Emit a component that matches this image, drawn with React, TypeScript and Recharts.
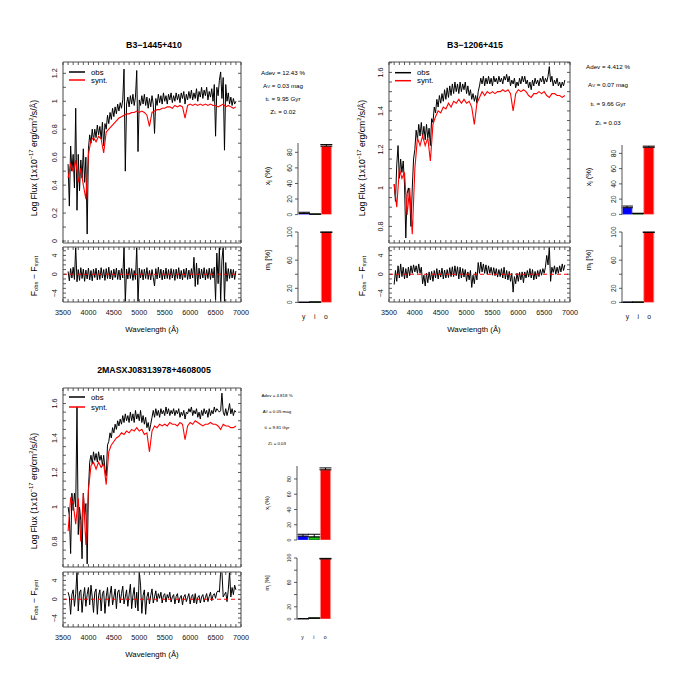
import React from "react";
import { LineChart, Line, XAxis, YAxis, ReferenceLine, BarChart, Bar, Cell, ErrorBar } from "recharts";

const FONT = "'Liberation Sans', Arial, Helvetica, sans-serif";
const FRAME = "#8c8c8c";
const TICK = "#333";

// observed spectra and residuals are read every 25 Å, the model every 50 Å
const WAVE_FINE = [
  3600, 3625, 3650, 3675, 3700, 3725, 3750, 3775, 3800, 3825, 3850, 3875, 3900, 3925, 3950, 3975, 4000, 4025, 4050, 4075,
  4100, 4125, 4150, 4175, 4200, 4225, 4250, 4275, 4300, 4325, 4350, 4375, 4400, 4425, 4450, 4475, 4500, 4525, 4550, 4575,
  4600, 4625, 4650, 4675, 4700, 4725, 4750, 4775, 4800, 4825, 4850, 4875, 4900, 4925, 4950, 4975, 5000, 5025, 5050, 5075,
  5100, 5125, 5150, 5175, 5200, 5225, 5250, 5275, 5300, 5325, 5350, 5375, 5400, 5425, 5450, 5475, 5500, 5525, 5550, 5575,
  5600, 5625, 5650, 5675, 5700, 5725, 5750, 5775, 5800, 5825, 5850, 5875, 5900, 5925, 5950, 5975, 6000, 6025, 6050, 6075,
  6100, 6125, 6150, 6175, 6200, 6225, 6250, 6275, 6300, 6325, 6350, 6375, 6400, 6425, 6450, 6475, 6500, 6525, 6550, 6575,
  6600, 6625, 6650, 6675, 6700, 6725, 6750, 6775, 6800, 6825, 6850, 6875, 6900,
];
const WAVE = [
  3600, 3650, 3700, 3750, 3800, 3850, 3900, 3950, 4000, 4050,
  4100, 4150, 4200, 4250, 4300, 4350, 4400, 4450, 4500, 4550,
  4600, 4650, 4700, 4750, 4800, 4850, 4900, 4950, 5000, 5050,
  5100, 5150, 5200, 5250, 5300, 5350, 5400, 5450, 5500, 5550,
  5600, 5650, 5700, 5750, 5800, 5850, 5900, 5950, 6000, 6050,
  6100, 6150, 6200, 6250, 6300, 6350, 6400, 6450, 6500, 6550,
  6600, 6650, 6700, 6750, 6800, 6850, 6900,
];

// B3-1445+410
const OBS_A = [
  0.55, 0.25, 0.68, 0.50, 0.62, 0.38, 0.95, 0.22, 0.62, 0.36, 0.58, 0.45, 0.66, 0.42, 0.60, 0.05, 0.66, 0.76, 0.70, 0.80,
  0.72, 0.80, 0.74, 0.83, 0.76, 0.82, 0.73, 0.85, 0.68, 0.84, 0.80, 0.90, 0.84, 0.92, 0.87, 0.95, 0.89, 0.96, 0.91, 0.98,
  0.93, 0.99, 0.95, 1.01, 1.23, 0.50, 0.98, 1.03, 0.96, 1.04, 0.98, 1.05, 0.97, 1.03, 1.22, 0.64, 1.01, 0.97, 1.04, 0.98,
  1.05, 0.97, 1.03, 0.95, 1.02, 0.96, 1.04, 0.98, 0.77, 1.02, 0.97, 1.05, 0.99, 1.04, 0.98, 1.06, 1.00, 1.04, 0.98, 1.05,
  1.01, 1.06, 0.99, 1.04, 1.00, 1.06, 1.01, 1.05, 0.99, 1.06, 1.02, 1.07, 0.98, 1.05, 1.01, 1.07, 1.02, 1.08, 1.01, 1.06,
  1.02, 1.09, 1.00, 1.07, 1.03, 1.10, 1.02, 1.08, 1.04, 1.10, 1.01, 1.07, 1.03, 1.09, 1.00, 1.12, 0.75, 1.10, 1.04, 1.15,
  1.21, 1.02, 1.17, 0.65, 1.12, 1.00, 1.06, 0.98, 1.03, 0.97, 1.02, 0.98, 1.00,
];
const SYN_A = [
  0.45, 0.55, 0.50, 0.58, 0.42, 0.52, 0.40, 0.30, 0.62, 0.72,
  0.74, 0.71, 0.75, 0.73, 0.63, 0.78, 0.80, 0.82, 0.84, 0.86,
  0.88, 0.89, 0.90, 0.91, 0.91, 0.92, 0.92, 0.93, 0.92, 0.93,
  0.92, 0.90, 0.82, 0.92, 0.93, 0.94, 0.94, 0.95, 0.95, 0.96,
  0.96, 0.95, 0.97, 0.96, 0.97, 0.96, 0.88, 0.97, 0.98, 0.97,
  0.98, 0.97, 0.98, 0.97, 0.98, 0.97, 0.98, 0.97, 0.97, 0.96,
  0.97, 0.98, 0.96, 0.97, 0.96, 0.95, 0.96,
];
const RES_A = [
  0.6, -1.4, 1.2, -0.8, 1.5, -1.1, 5.9, -1.6, 1.0, -1.3, 1.4, -0.9, 1.1, -1.5, 0.9, -1.0, 1.3, -1.2, 0.8, -1.4,
  1.1, -0.7, 1.3, -1.2, 0.9, -1.1, 1.4, -0.8, 1.0, -1.3, 1.2, -0.9, 1.5, -1.0, 0.8, -1.2, 1.1, -0.7, 1.3, -1.1,
  0.9, -1.2, 1.2, -0.8, 5.9, -5.9, 1.1, -1.0, 1.4, -0.9, 1.2, -1.3, 0.8, -1.1, 5.9, -5.9, 1.3, -0.8, 1.0, -1.2,
  1.1, -0.9, 1.4, -1.1, 0.8, -1.2, 1.0, -0.7, -2.5, 1.2, -1.0, 1.5, -0.8, 1.1, -1.2, 0.9, -1.0, 1.3, -0.9, 1.0,
  -1.1, 1.2, -0.8, 1.0, -1.3, 1.1, -0.9, 1.4, -1.0, 0.8, -1.2, 1.1, -0.7, 1.3, -1.1, 0.9, -1.0, 1.2, -0.8, 3.6,
  -2.6, 2.4, -2.2, 1.3, -1.0, 1.1, -0.8, 1.4, -1.2, 1.0, -0.9, 1.3, -1.1, 1.2, -0.8, 1.5, -5.5, 4.5, -2.0, 5.9,
  -5.9, 3.0, 5.9, -5.9, 2.5, -1.5, 1.2, -0.9, 1.1, -0.8, 1.0, -1.1, 0.7,
];

// B3-1206+415
const OBS_B = [
  1.02, 0.93, 1.12, 1.22, 1.05, 1.15, 1.08, 1.14, 1.02, 0.74, 0.97, 1.00, 0.95, 0.80, 1.00, 1.15, 1.20, 1.30, 1.25, 1.33,
  1.27, 1.34, 1.26, 1.32, 1.25, 1.33, 1.26, 1.31, 1.22, 1.36, 1.34, 1.42, 1.39, 1.46, 1.42, 1.48, 1.44, 1.49, 1.45, 1.51,
  1.46, 1.52, 1.47, 1.53, 1.48, 1.54, 1.49, 1.55, 1.50, 1.54, 1.49, 1.55, 1.50, 1.54, 1.51, 1.55, 1.49, 1.53, 1.48, 1.51,
  1.46, 1.49, 1.45, 1.48, 1.44, 1.50, 1.53, 1.57, 1.54, 1.58, 1.53, 1.57, 1.54, 1.58, 1.54, 1.57, 1.53, 1.58, 1.55, 1.57,
  1.54, 1.58, 1.55, 1.57, 1.54, 1.58, 1.56, 1.59, 1.55, 1.58, 1.53, 1.56, 1.54, 1.57, 1.52, 1.55, 1.53, 1.57, 1.54, 1.58,
  1.55, 1.58, 1.54, 1.56, 1.52, 1.55, 1.51, 1.56, 1.53, 1.57, 1.54, 1.56, 1.53, 1.57, 1.55, 1.58, 1.54, 1.57, 1.55, 1.58,
  1.63, 1.55, 1.58, 1.53, 1.56, 1.54, 1.57, 1.53, 1.55, 1.52, 1.55, 1.53, 1.56,
];
const SYN_B = [
  1.02, 0.90, 1.10, 1.05, 1.08, 0.86, 1.00, 0.76, 1.10, 1.26,
  1.22, 1.27, 1.22, 1.26, 1.14, 1.33, 1.37, 1.40, 1.39, 1.42,
  1.41, 1.44, 1.42, 1.45, 1.44, 1.46, 1.44, 1.46, 1.44, 1.45,
  1.42, 1.33, 1.44, 1.47, 1.50, 1.48, 1.50, 1.49, 1.50, 1.49,
  1.50, 1.50, 1.51, 1.50, 1.51, 1.49, 1.40, 1.49, 1.51, 1.50,
  1.51, 1.50, 1.48, 1.47, 1.49, 1.49, 1.50, 1.49, 1.50, 1.48,
  1.47, 1.49, 1.49, 1.48, 1.48, 1.47, 1.48,
];
const RES_B = [
  -2.2, 0.8, -1.5, 1.8, -0.8, 2.2, -0.5, 1.5, -1.0, 1.2, -0.8, 1.5, -0.3, 1.8, 0.2, 2.0, 0.5, 1.8, 0.2, 2.2,
  0.2, 1.5, -2.0, -0.2, -2.5, 0.2, -1.8, 0.5, -1.2, 0.6, -1.5, 0.8, -0.8, 1.2, -1.0, 0.9, -0.6, 1.3, -1.0, 0.9,
  -0.8, 1.0, -0.7, 1.4, -0.5, 1.6, -0.5, 1.8, -0.3, 1.6, -1.0, 1.5, -0.8, 1.2, -0.6, 1.0, -1.5, 0.5, -1.2, 0.8,
  -2.8, -0.2, -2.0, 0.5, -1.2, 2.5, 0.2, 2.6, 0.5, 2.2, 0.2, 2.0, 0.0, 1.8, 0.2, 1.5, -0.2, 1.4, -0.3, 1.2,
  -0.6, 1.0, -0.5, 1.2, -0.8, 1.5, -1.0, 0.8, -1.2, 0.6, -1.5, 0.2, -3.8, -0.5, -2.0, 0.2, -1.5, 0.4, -1.2, 0.5,
  -1.8, 0.5, -0.8, 0.8, -0.6, 1.2, -0.8, 1.0, -1.2, 0.6, -1.0, 0.8, -0.5, 1.0, -0.2, 1.2, 0.2, 1.5, 4.0, 2.0,
  5.9, -1.5, 1.5, 0.4, 1.8, 0.0, 1.5, 0.2, 1.8, 0.5, 2.2, 0.8, 2.0,
];

// 2MASXJ08313978+4608005
const OBS_C = [
  1.00, 0.95, 0.73, 1.08, 0.98, 1.08, 1.00, 1.58, 0.84, 1.00, 0.92, 0.70, 1.08, 0.95, 1.02, 0.67, 1.10, 1.26, 1.30, 1.25,
  1.32, 1.27, 1.31, 1.26, 1.32, 1.27, 1.30, 1.24, 1.30, 1.22, 1.18, 1.36, 1.38, 1.43, 1.40, 1.46, 1.43, 1.48, 1.45, 1.50,
  1.47, 1.51, 1.48, 1.53, 1.49, 1.54, 1.50, 1.53, 1.49, 1.55, 1.50, 1.54, 1.49, 1.56, 1.51, 1.54, 1.50, 1.56, 1.49, 1.53,
  1.48, 1.52, 1.46, 1.49, 1.44, 1.48, 1.52, 1.56, 1.52, 1.57, 1.53, 1.56, 1.52, 1.57, 1.54, 1.56, 1.53, 1.58, 1.54, 1.57,
  1.53, 1.56, 1.54, 1.57, 1.53, 1.56, 1.54, 1.57, 1.52, 1.55, 1.53, 1.56, 1.51, 1.55, 1.54, 1.57, 1.55, 1.58, 1.53, 1.56,
  1.54, 1.57, 1.52, 1.55, 1.51, 1.56, 1.53, 1.57, 1.54, 1.56, 1.52, 1.57, 1.53, 1.56, 1.54, 1.58, 1.55, 1.57, 1.56, 1.55,
  1.56, 1.66, 1.55, 1.53, 1.57, 1.53, 1.56, 1.60, 1.54, 1.57, 1.53, 1.56, 1.55,
];
const SYN_C = [
  0.86, 1.05, 1.02, 0.90, 1.05, 0.80, 1.08, 0.78, 1.10, 1.24,
  1.26, 1.22, 1.26, 1.23, 1.25, 1.13, 1.32, 1.36, 1.38, 1.40,
  1.41, 1.43, 1.42, 1.44, 1.43, 1.45, 1.44, 1.46, 1.44, 1.45,
  1.42, 1.43, 1.32, 1.44, 1.47, 1.46, 1.48, 1.47, 1.48, 1.47,
  1.49, 1.48, 1.48, 1.47, 1.49, 1.48, 1.39, 1.47, 1.49, 1.48,
  1.50, 1.49, 1.48, 1.47, 1.48, 1.48, 1.49, 1.48, 1.48, 1.47,
  1.45, 1.48, 1.47, 1.47, 1.46, 1.46, 1.47,
];
const RES_C = [
  1.5, 0.5, -3.2, 1.0, 2.0, -1.5, 1.2, 5.9, -2.5, 1.5, 2.0, -2.8, 0.5, 2.5, -1.5, 1.0, 2.5, -1.2, 3.0, 0.5,
  -2.8, 1.5, 2.2, -3.2, 0.8, 2.0, -2.5, 1.2, 1.8, -3.0, 0.5, 2.5, -1.5, 1.0, 2.8, -1.2, 0.5, 2.2, -2.0, 1.5,
  2.0, -0.8, 1.2, 2.8, -1.0, 0.5, 2.0, -1.5, 1.0, 3.2, -2.0, 0.8, 2.5, -1.8, 1.5, -2.5, 5.9, 3.0, -3.0, 0.8,
  2.0, -3.2, 0.5, 1.5, -1.0, 0.8, 2.2, -0.8, 0.5, 1.8, -0.5, 1.2, 0.2, 1.5, -0.8, 0.8, 1.2, -0.6, 1.0, 0.2,
  1.5, -0.6, 0.5, 1.0, -1.0, 0.6, 1.2, -0.8, 0.3, 0.8, -1.2, 0.5, 1.0, -0.5, 0.4, 1.2, -1.0, 0.6, 1.0, -0.8,
  1.2, -1.0, 0.4, 0.8, -0.8, 0.5, 1.0, -0.6, 0.4, 1.2, -0.5, 0.6, 1.5, -0.3, 0.8, 1.2, 0.2, 1.5, 1.8, 1.5,
  5.9, 5.9, 0.5, 1.0, 1.5, -0.5, 2.0, 5.9, 0.5, 2.5, 1.0, 3.0, 2.0,
];

// population vectors: young / intermediate / old
const CATS = ["y", "i", "o"];
const XJ_A = [1.5, 0.5, 88];
const XJ_ERR_A = [1.5, 0.3, 2];
const MJ_A = [0.1, 0.4, 99.5];
const MJ_ERR_A = [0.1, 0.2, 0.5];
const XJ_B = [8.7, 1, 88];
const XJ_ERR_B = [2.2, 0.5, 1.5];
const MJ_B = [0.2, 0.3, 99.5];
const MJ_ERR_B = [0.1, 0.1, 0.4];
const XJ_C = [5, 4, 92];
const XJ_ERR_C = [2.5, 3.5, 2.5];
const MJ_C = [0.3, 1.3, 98.4];
const MJ_ERR_C = [0.2, 0.5, 1];

// ticks
const X_TICKS = [3500, 3600, 3700, 3800, 3900, 4000, 4100, 4200, 4300, 4400, 4500, 4600, 4700, 4800, 4900, 5000, 5100, 5200, 5300, 5400, 5500, 5600, 5700, 5800, 5900, 6000, 6100, 6200, 6300, 6400, 6500, 6600, 6700, 6800, 6900, 7000];
const X_LABELS = [3500, 4000, 4500, 5000, 5500, 6000, 6500, 7000];
const FLUX_TICKS_A = [0, 0.1, 0.2, 0.3, 0.4, 0.5, 0.6, 0.7, 0.8, 0.9, 1, 1.1, 1.2];
const FLUX_LABELS_A = [0, 0.2, 0.4, 0.6, 0.8, 1, 1.2];
const FLUX_TICKS_B = [0.75, 0.8, 0.85, 0.9, 0.95, 1, 1.05, 1.1, 1.15, 1.2, 1.25, 1.3, 1.35, 1.4, 1.45, 1.5, 1.55, 1.6, 1.65];
const FLUX_TICKS_C = [0.7, 0.75, 0.8, 0.85, 0.9, 0.95, 1, 1.05, 1.1, 1.15, 1.2, 1.25, 1.3, 1.35, 1.4, 1.45, 1.5, 1.55, 1.6, 1.65];
const FLUX_LABELS_BC = [0.8, 1, 1.2, 1.4, 1.6];
const RES_TICKS = [-5, -4, -3, -2, -1, 0, 1, 2, 3, 4, 5];
const RES_LABELS = [-4, 0, 4];
const XJ_TICKS = [0, 20, 40, 60, 80];
const MJ_TICKS = [0, 20, 40, 60, 80, 100];
const MJ_LABELS = [0, 20, 60, 100];

const BAR_FILL = ["#0000ff", "#1fc41f", "#ff0000"];
const BAR_EDGE = ["#4b4bff", "#0b5e0b", "#ff8a8a"];

const obsRows = (obs: number[]) => WAVE_FINE.map((w, i) => ({ w, obs: obs[i] }));
const synRows = (syn: number[]) => WAVE.map((w, i) => ({ w, syn: syn[i] }));
const resRows = (res: number[]) => WAVE_FINE.map((w, i) => ({ w, res: res[i] }));
const barRows = (v: number[], e: number[]) => CATS.map((c, i) => ({ c, v: v[i], e: [0, e[i]] }));

const fmt = (v: number) => (v < 0 ? "\u2212" + Math.abs(v) : String(v));

const bottomTick = (labels: number[], fs: number) => (p: any) => {
  const v = p.payload.value;
  return (
    <g>
      <line x1={p.x} x2={p.x} y1={p.y} y2={p.y - 3} stroke={TICK} strokeWidth={0.8} />
      {labels.includes(v) && (
        <text x={p.x} y={p.y + 12.5} textAnchor="middle" fontSize={fs} fontFamily={FONT} fill="#111">{v}</text>
      )}
    </g>
  );
};
const topTick = (p: any) => <line x1={p.x} x2={p.x} y1={p.y} y2={p.y + 3} stroke={TICK} strokeWidth={0.8} />;
const rightTick = (p: any) => <line x1={p.x} x2={p.x - 3} y1={p.y} y2={p.y} stroke={TICK} strokeWidth={0.8} />;
const leftTick = (labels: number[], fs: number, inward: boolean) => (p: any) => {
  const v = p.payload.value;
  const tx = p.x - 6;
  return (
    <g>
      <line x1={p.x} x2={inward ? p.x + 3 : p.x - 3} y1={p.y} y2={p.y} stroke={TICK} strokeWidth={0.8} />
      {labels.includes(v) && (
        <text x={tx} y={p.y} transform={`rotate(-90 ${tx} ${p.y})`} textAnchor="middle" fontSize={fs} fontFamily={FONT} fill="#111">{fmt(v)}</text>
      )}
    </g>
  );
};
const catTick = (fs: number, dy: number) => (p: any) => (
  <text x={p.x} y={p.y + dy} textAnchor="middle" fontSize={fs} fontFamily={FONT} fill="#111">{p.payload.value}</text>
);

const PAD = 30;

// axes get a 1px box (a 0 size axis is not drawn), margins shrink by 1 to keep the plot box exact
function Framed({ box, yDomain, yTicks, yLabels, xLabels, children }: any) {
  const m = PAD - 1;
  return (
    <div style={{ position: "absolute", left: box.x - PAD, top: box.y - PAD }}>
      <LineChart width={box.w + 2 * PAD} height={box.h + 2 * PAD} margin={{ top: m, right: m, bottom: m, left: m }}>
        <XAxis xAxisId="b" dataKey="w" type="number" domain={[3500, 7000]} ticks={X_TICKS} interval={0} height={1} tickSize={0} tickMargin={0} tickLine={false} axisLine={{ stroke: FRAME, strokeWidth: 1.6 }} tick={bottomTick(xLabels, 7.2)} allowDataOverflow />
        <XAxis xAxisId="t" orientation="top" dataKey="w" type="number" domain={[3500, 7000]} ticks={X_TICKS} interval={0} height={1} tickSize={0} tickMargin={0} tickLine={false} axisLine={{ stroke: FRAME, strokeWidth: 1.6 }} tick={topTick} allowDataOverflow />
        <YAxis yAxisId="l" type="number" domain={yDomain} ticks={yTicks} interval={0} width={1} tickSize={0} tickMargin={0} tickLine={false} axisLine={{ stroke: FRAME, strokeWidth: 1.6 }} tick={leftTick(yLabels, 7.2, true)} allowDataOverflow />
        <YAxis yAxisId="r" orientation="right" type="number" domain={yDomain} ticks={yTicks} interval={0} width={1} tickSize={0} tickMargin={0} tickLine={false} axisLine={{ stroke: FRAME, strokeWidth: 1.6 }} tick={rightTick} allowDataOverflow />
        {children}
      </LineChart>
    </div>
  );
}

function SpecPanel({ main, res, obs, syn, resid, yDomain, yTicks, yLabels }: any) {
  return (
    <>
      <Framed box={main} yDomain={yDomain} yTicks={yTicks} yLabels={yLabels} xLabels={[]}>
        <Line xAxisId="b" yAxisId="l" data={obsRows(obs)} type="linear" dataKey="obs" stroke="#000" strokeWidth={1} dot={false} isAnimationActive={false} />
        <Line xAxisId="b" yAxisId="l" data={synRows(syn)} type="linear" dataKey="syn" stroke="#ff0000" strokeWidth={1.1} dot={false} isAnimationActive={false} />
      </Framed>
      <Framed box={res} yDomain={[-5.9, 5.8]} yTicks={RES_TICKS} yLabels={RES_LABELS} xLabels={X_LABELS}>
        <Line xAxisId="b" yAxisId="l" data={resRows(resid)} type="linear" dataKey="res" stroke="#000" strokeWidth={1} dot={false} isAnimationActive={false} />
        <ReferenceLine xAxisId="b" yAxisId="l" y={0} stroke="#ff0000" strokeWidth={1.2} strokeDasharray="4 3" />
      </Framed>
    </>
  );
}

function BarBlock({ x, r, top, bot, domain, ticks, labels, vals, errs, fs, cats }: any) {
  const padL = 24, padR = 4, padT = 14, padB = cats ? 26 : 4;
  const w = r - x, h = bot - top;
  const data = barRows(vals, errs);
  return (
    <div style={{ position: "absolute", left: x - padL, top: top - padT }}>
      <BarChart width={w + padL + padR} height={h + padT + padB} data={data} margin={{ top: padT, right: padR, bottom: padB - 1, left: padL - 1 }} barSize={10}>
        <XAxis dataKey="c" type="category" height={1} axisLine={false} tickLine={false} tickSize={0} tickMargin={0} interval={0} tick={cats ? catTick(fs, cats) : false} />
        <YAxis type="number" domain={domain} ticks={ticks} interval={0} width={1} tickSize={0} tickMargin={0} tickLine={false} axisLine={{ stroke: FRAME, strokeWidth: 1.5 }} tick={leftTick(labels, fs, false)} allowDataOverflow />
        <Bar dataKey="v" isAnimationActive={false}>
          {data.map((_, i) => (
            <Cell key={i} fill={BAR_FILL[i]} stroke={BAR_EDGE[i]} strokeWidth={0.8} />
          ))}
          <ErrorBar dataKey="e" width={6} stroke="#000" strokeWidth={1} direction="y" isAnimationActive={false} />
        </Bar>
      </BarChart>
    </div>
  );
}

function T({ x, y, size, rot, bold, anchor = "middle", children }: any) {
  return (
    <text x={x} y={y} fontSize={size} fontWeight={bold ? "bold" : "normal"} textAnchor={anchor} dominantBaseline="central"
      transform={rot ? `rotate(-90 ${x} ${y})` : undefined} fontFamily={FONT} fill="#000">
      {children}
    </text>
  );
}

function PanelText({ title, tx, ty, lx, ly, fy, wx, wy, leg, ann, ax, annY, annFs, bx, xjY, mjY, bFs }: any) {
  const s = 8.6;
  return (
    <g>
      <T x={tx} y={ty} size={8.8} bold>{title}</T>
      <T x={lx} y={ly} size={s} rot>
        Log Flux (1x10<tspan dy={-3} fontSize={5.8}>{"\u221217"}</tspan><tspan dy={3}> erg/cm</tspan><tspan dy={-3} fontSize={5.8}>2</tspan><tspan dy={3}>/s/Å)</tspan>
      </T>
      <T x={lx} y={fy} size={s} rot>
        F<tspan dy={2} fontSize={5.8}>obs</tspan><tspan dy={-2}>{" \u2212 F"}</tspan><tspan dy={2} fontSize={5.8}>synt</tspan>
      </T>
      <T x={wx} y={wy} size={7.8}>Wavelength (Å)</T>
      <line x1={leg.x} x2={leg.x + 16} y1={leg.y1} y2={leg.y1} stroke="#000" strokeWidth={1.5} />
      <line x1={leg.x} x2={leg.x + 16} y1={leg.y2} y2={leg.y2} stroke="#ff0000" strokeWidth={1.5} />
      <T x={leg.x + 22} y={leg.y1} size={7.8} anchor="start">obs</T>
      <T x={leg.x + 22} y={leg.y2} size={7.8} anchor="start">synt.</T>
      <T x={ax} y={annY[0]} size={annFs}>Adev = {ann[0]} %</T>
      <T x={ax} y={annY[1]} size={annFs}>A<tspan dy={1.2} fontSize={annFs * 0.7}>V</tspan><tspan dy={-1.2}> = {ann[1]} mag</tspan></T>
      <T x={ax} y={annY[2]} size={annFs}>t<tspan dy={1.2} fontSize={annFs * 0.7}>L</tspan><tspan dy={-1.2}> = {ann[2]} Gyr</tspan></T>
      <T x={ax} y={annY[3]} size={annFs}>Z<tspan dy={1.2} fontSize={annFs * 0.7}>L</tspan><tspan dy={-1.2}> = {ann[3]}</tspan></T>
      <T x={bx} y={xjY} size={bFs} rot>x<tspan dy={1.5} fontSize={bFs * 0.7}>j</tspan><tspan dy={-1.5}> (%)</tspan></T>
      <T x={bx} y={mjY} size={bFs} rot>m<tspan dy={1.5} fontSize={bFs * 0.7}>j</tspan><tspan dy={-1.5}> [%]</tspan></T>
    </g>
  );
}

export default function App() {
  return (
    <div style={{ position: "absolute", left: 0, top: 0, width: 700, height: 700, background: "#fff", fontFamily: FONT }}>
      {/* B3-1445+410 */}
      <SpecPanel main={{ x: 63, y: 62, w: 178, h: 181 }} res={{ x: 63, y: 247, w: 178, h: 55 }} obs={OBS_A} syn={SYN_A} resid={RES_A}
        yDomain={[-0.014, 1.281]} yTicks={FLUX_TICKS_A} yLabels={FLUX_LABELS_A} />
      <BarBlock x={297.5} r={331} top={142.7} bot={214.3} domain={[0, 92]} ticks={XJ_TICKS} labels={XJ_TICKS} vals={XJ_A} errs={XJ_ERR_A} fs={6.8} />
      <BarBlock x={297.5} r={331} top={232.3} bot={302.7} domain={[0, 100]} ticks={MJ_TICKS} labels={MJ_LABELS} vals={MJ_A} errs={MJ_ERR_A} fs={6.8} cats={17} />

      {/* B3-1206+415 */}
      <SpecPanel main={{ x: 389, y: 62, w: 181, h: 181 }} res={{ x: 389, y: 247, w: 181, h: 55 }} obs={OBS_B} syn={SYN_B} resid={RES_B}
        yDomain={[0.714, 1.654]} yTicks={FLUX_TICKS_B} yLabels={FLUX_LABELS_BC} />
      <BarBlock x={622.3} r={655} top={144.9} bot={214.3} domain={[0, 91]} ticks={XJ_TICKS} labels={XJ_TICKS} vals={XJ_B} errs={XJ_ERR_B} fs={6.8} />
      <BarBlock x={622.3} r={655} top={232.3} bot={302.7} domain={[0, 100]} ticks={MJ_TICKS} labels={MJ_LABELS} vals={MJ_B} errs={MJ_ERR_B} fs={6.8} cats={17} />

      {/* 2MASXJ08313978+4608005 */}
      <SpecPanel main={{ x: 63, y: 388, w: 178, h: 179 }} res={{ x: 63, y: 572, w: 178, h: 55 }} obs={OBS_C} syn={SYN_C} resid={RES_C}
        yDomain={[0.652, 1.69]} yTicks={FLUX_TICKS_C} yLabels={FLUX_LABELS_BC} />
      <BarBlock x={297.3} r={331} top={466} bot={540} domain={[0, 97]} ticks={XJ_TICKS} labels={XJ_TICKS} vals={XJ_C} errs={XJ_ERR_C} fs={5.2} />
      <BarBlock x={297.3} r={331} top={557.7} bot={618.7} domain={[0, 100]} ticks={MJ_TICKS} labels={MJ_LABELS} vals={MJ_C} errs={MJ_ERR_C} fs={5.2} cats={20.5} />

      <svg width={700} height={700} style={{ position: "absolute", left: 0, top: 0, pointerEvents: "none" }}>
        <PanelText title="B3−1445+410" tx={154} ty={45} lx={33.5} ly={158} fy={276} wx={152} wy={329}
          leg={{ x: 69, y1: 72, y2: 80 }} ann={["12.43", "0.03", "9.95", "0.02"]} ax={283} annY={[72, 85, 98, 111]} annFs={6.2}
          bx={267} xjY={176} mjY={260} bFs={7.5} />
        <PanelText title="B3−1206+415" tx={475} ty={45} lx={362} ly={158} fy={276} wx={474} wy={329}
          leg={{ x: 395, y1: 72.7, y2: 80.7 }} ann={["4.412", "0.07", "9.66", "0.03"]} ax={608} annY={[66, 84, 103, 122]} annFs={6.2}
          bx={588} xjY={177} mjY={260} bFs={7.5} />
        <PanelText title="2MASXJ08313978+4608005" tx={154} ty={370} lx={33.5} ly={491} fy={600} wx={152} wy={654}
          leg={{ x: 69, y1: 397, y2: 407 }} ann={["4.818", "0.05", "9.81", "0.03"]} ax={277} annY={[395, 411, 427, 443]} annFs={4.4}
          bx={267} xjY={503} mjY={583} bFs={5.5} />
      </svg>
    </div>
  );
}
